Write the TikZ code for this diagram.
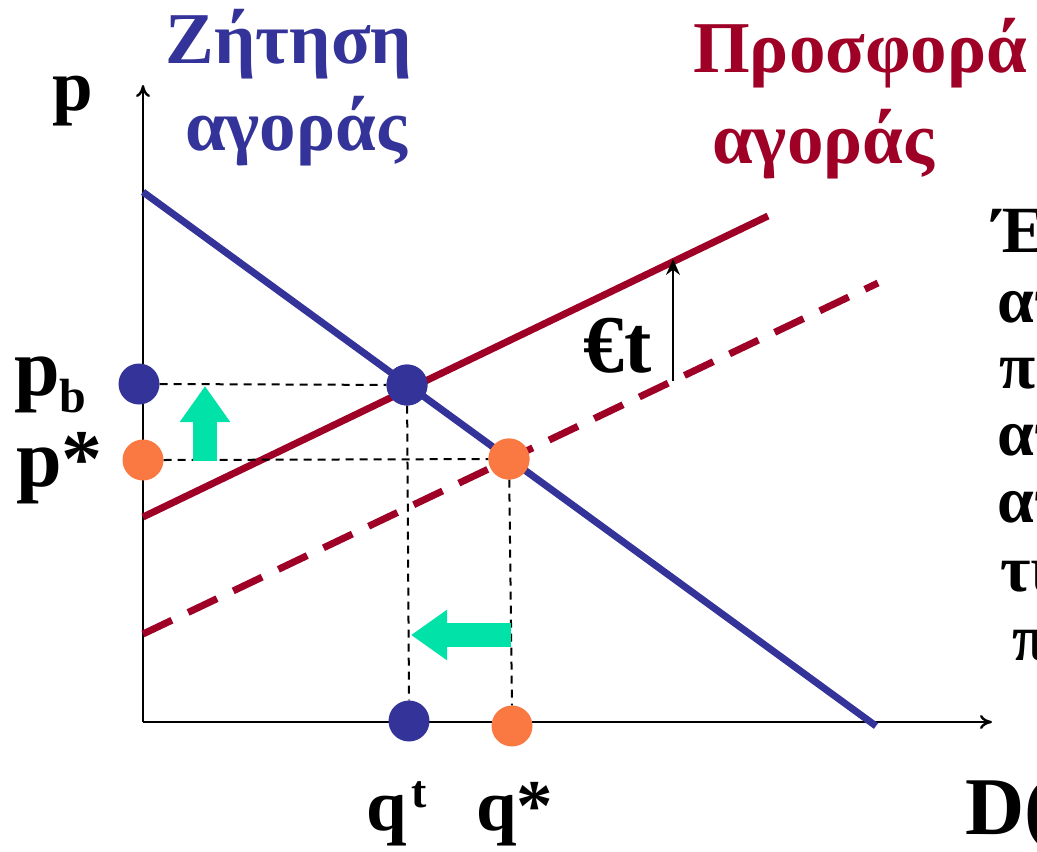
\documentclass[tikz,border=0pt]{standalone}
\usepackage{fontspec}
\setmainfont{Liberation Serif}
\usetikzlibrary{arrows.meta}
\definecolor{dblue}{RGB}{51,51,153}
\definecolor{dred}{RGB}{158,0,38}
\definecolor{orng}{RGB}{250,120,66}
\definecolor{grn}{RGB}{0,226,168}
\newcommand{\subtxt}[1]{\raisebox{-17pt}{\fontsize{48}{52}\selectfont\bfseries #1}}
\newcommand{\suptxt}[1]{\hspace{5pt}\raisebox{23pt}{\fontsize{46}{50}\selectfont\bfseries #1}}
\tikzset{
  lbl/.style={font=\fontsize{73}{82}\selectfont\bfseries, inner sep=0pt},
  biglbl/.style={font=\fontsize{82}{90}\selectfont\bfseries, inner sep=0pt},
  side/.style={font=\fontsize{66}{67}\selectfont\bfseries, inner sep=0pt, anchor=base west},
  axis/.style={line width=2.4pt, -{To[length=12pt,width=14pt]}},
  demand/.style={line width=7pt, dblue},
  supply/.style={line width=7pt, dred},
  supplyt/.style={line width=7pt, dred, dash pattern=on 32pt off 18pt},
  guide/.style={line width=2pt, dash pattern=on 8pt off 6pt},
  dotb/.style={circle, fill=dblue, minimum size=41pt, inner sep=0pt},
  doto/.style={circle, fill=orng, minimum size=41pt, inner sep=0pt},
  movearrow/.style={line width=24pt, grn, -{Triangle[width=48pt,length=36pt]}},
}
\begin{document}
\begin{tikzpicture}[x=1pt,y=-1pt]
\useasboundingbox (0,0) rectangle (1037,852);
% axes
\coordinate (O) at (143,722);
\coordinate (ytop) at (143,85);
\coordinate (xend) at (992,722);
\draw[axis] (O) -- (ytop);
\draw[axis] (O) -- (xend);
% curves
\coordinate (d1) at (143,192);
\coordinate (d2) at (876,726);
\coordinate (s1) at (143,517);
\coordinate (s2) at (768,216);
\coordinate (t1) at (143,634);
\coordinate (t2) at (878,283);
\draw[supplyt] (t1) -- (t2);
\draw[supply] (s1) -- (s2);
\draw[demand] (d1) -- (d2);
% tax arrow
\coordinate (ta) at (673,381);
\coordinate (tb) at (673,259);
\draw[line width=1.6pt, -{Stealth[length=16pt,width=14pt]}] (ta) -- (tb);
% dots
\node[dotb] (pb) at (139,384) {};
\node[doto] (ps) at (143,460) {};
\node[dotb] (E1) at (407,385) {};
\node[doto] (E0) at (509,459) {};
\node[dotb] (qt) at (409,721) {};
\node[doto] (qs) at (512,726) {};
% guides
\draw[guide] (pb.east) -- (E1);
\draw[guide] (ps.east) -- (E0);
\draw[guide] (E1) -- (qt.north);
\draw[guide] (E0) -- (qs.north);
\node[dotb] at (E1) {};
\node[doto] at (E0) {};
% green arrows
\coordinate (ua) at (205,461);
\coordinate (ub) at (205,386);
\draw[movearrow] (ua) -- (ub);
\coordinate (la) at (511,635);
\coordinate (lb) at (411,635);
\draw[movearrow] (la) -- (lb);
% labels
\node[lbl, anchor=base west] (lp) at (52,110) {p};
\node[biglbl, anchor=base west] (lpb) at (14,395) {p\subtxt{b}};
\node[biglbl, anchor=base west] (lps) at (16,486) {p*};
\node[biglbl, anchor=base west] (let) at (583,372) {€t};
\node[lbl, anchor=base west] (lqt) at (366,830) {q\suptxt{t}};
\node[lbl, anchor=base west] (lqs) at (476,830) {q*};
\node[biglbl, anchor=base west] (lD) at (965,834) {D(};
\node[lbl, anchor=base, text=dblue] (dem1) at (289,63) {Ζήτηση};
\node[lbl, anchor=base, text=dblue] (dem2) at (296,150) {αγοράς};
\node[lbl, anchor=base west, text=dred] (sup1) at (693,72) {Προσφορά};
\node[lbl, anchor=base west, text=dred] (sup2) at (712,163) {αγοράς};
% clipped side text
\node[side] (r1) at (993,252) {Έστ};
\node[side] (r2) at (997,322) {ατ};
\node[side] (r3) at (999,388) {πρ};
\node[side] (r4) at (997,455) {ατ};
\node[side] (r5) at (997,522) {ατ};
\node[side] (r6) at (1000,591) {τι};
\node[side] (r7) at (1012,660) {π};
\end{tikzpicture}
\end{document}
